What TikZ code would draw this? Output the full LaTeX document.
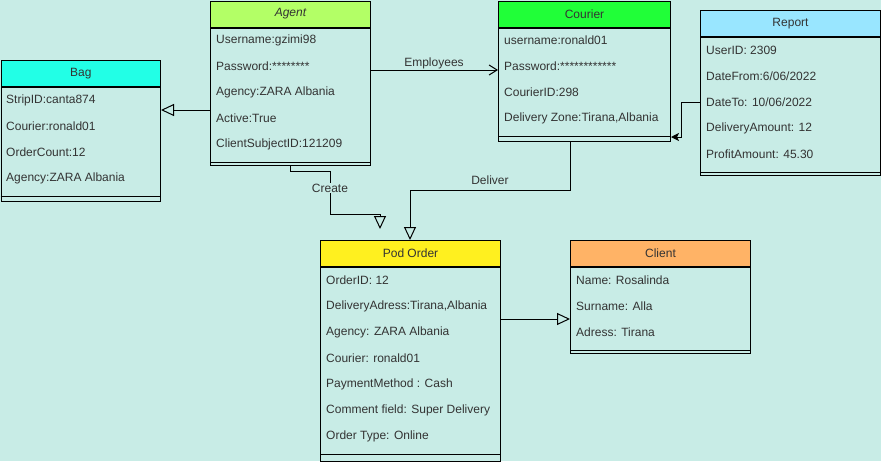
\documentclass[tikz,border=0pt]{standalone}
\usepackage{fontspec}
\setmainfont{Liberation Sans}
\usetikzlibrary{arrows.meta, positioning, calc}
\usepackage{xcolor}

\definecolor{bgmint}{HTML}{C8ECE6}
\definecolor{txtgrey}{HTML}{333333}
\definecolor{agentgreen}{HTML}{B3FF66}
\definecolor{bagcyan}{HTML}{22FFE6}
\definecolor{couriergreen}{HTML}{20FF38}
\definecolor{reportblue}{HTML}{99E6FF}
\definecolor{podyellow}{HTML}{FFF01F}
\definecolor{clientorange}{HTML}{FFB366}

\tikzset{
	head/.style={draw, line width=1pt, anchor=north west, minimum height=26pt, inner sep=0pt, text=txtgrey, font=\fontsize{12}{14}\selectfont},
	body/.style={draw, line width=1pt, anchor=north west, inner sep=0pt},
	row/.style={anchor=west, inner sep=0pt, text=txtgrey, font=\fontsize{12}{14}\selectfont},
	lbl/.style={inner sep=1pt, text=txtgrey, font=\fontsize{12}{14}\selectfont},
	sepline/.style={line width=1pt},
	link/.style={line width=1pt},
	tri/.style={link, -{Triangle[open, length=13pt, width=12pt]}},
	barb/.style={link, -{Straight Barb[length=8pt, width=10pt]}},
	blockhead/.style={link, -{Stealth[length=8pt, width=8pt, inset=2pt]}}
}

\begin{document}
\begin{tikzpicture}[x=1pt,y=-1pt]

	\fill[bgmint] (0,0) rectangle (881,461);
	\useasboundingbox (0,0) rectangle (881,461);

	% Agent
	\node[head, fill=agentgreen, minimum width=160pt] (agent) at (210,0.5) {\itshape Agent};
	\node[body, minimum width=160pt, minimum height=137.5pt] (agentbox) at (agent.south west) {};
	\draw[sepline] ([yshift=4pt]agentbox.south west) -- ([yshift=4pt]agentbox.south east);
	\path (216,40) node[row] (agent1) {Username:gzimi98};
	\path (216,66) node[row] (agent2) {Password:********};
	\path (216,92) node[row] (agent3) {Agency:ZARA Albania};
	\path (216,118) node[row] (agent4) {Active:True};
	\path (216,144) node[row] (agent5) {ClientSubjectID:121209};

	% Bag
	\node[head, fill=bagcyan, minimum width=159.5pt] (bag) at (0.5,60) {Bag};
	\node[body, minimum width=159.5pt, minimum height=114pt] (bagbox) at (bag.south west) {};
	\draw[sepline] ([yshift=6pt]bagbox.south west) -- ([yshift=6pt]bagbox.south east);
	\path (6,100) node[row] (bag1) {StripID:canta874};
	\path (6,126) node[row] (bag2) {Courier:ronald01};
	\path (6,152) node[row] (bag3) {OrderCount:12};
	\path (6,178) node[row] (bag4) {Agency:ZARA Albania};

	% Courier
	\node[head, fill=couriergreen, minimum width=172pt] (courier) at (498,0.5) {Courier};
	\node[body, minimum width=172pt, minimum height=113.5pt] (courierbox) at (courier.south west) {};
	\draw[sepline] ([yshift=6pt]courierbox.south west) -- ([yshift=6pt]courierbox.south east);
	\path (504,40) node[row] (courier1) {username:ronald01};
	\path (504,66) node[row] (courier2) {Password:************};
	\path (504,92) node[row] (courier3) {CourierID:298};
	\path (504,118) node[row] (courier4) {Delivery Zone:Tirana,Albania};

	% Report
	\node[head, fill=reportblue, minimum width=180pt] (report) at (700,10) {Report};
	\node[body, minimum width=180pt, minimum height=138pt] (reportbox) at (report.south west) {};
	\draw[sepline] ([yshift=4pt]reportbox.south west) -- ([yshift=4pt]reportbox.south east);
	\path (706,50) node[row] (report1) {UserID: 2309};
	\path (706,76) node[row] (report2) {DateFrom:6/06/2022};
	\path (706,102) node[row] (report3) {DateTo: 10/06/2022};
	\path (706,128) node[row] (report4) {DeliveryAmount: 12};
	\path (706,154) node[row] (report5) {ProfitAmount: 45.30};

	% Pod Order
	\node[head, fill=podyellow, minimum width=180pt] (pod) at (320,240) {Pod Order};
	\node[body, minimum width=180pt, minimum height=193.5pt] (podbox) at (pod.south west) {};
	\draw[sepline] ([yshift=7pt]podbox.south west) -- ([yshift=7pt]podbox.south east);
	\path (326,280) node[row] (pod1) {OrderID: 12};
	\path (326,306) node[row] (pod2) {DeliveryAdress:Tirana,Albania};
	\path (326,332) node[row] (pod3) {Agency: ZARA Albania};
	\path (326,358) node[row] (pod4) {Courier: ronald01};
	\path (326,384) node[row] (pod5) {PaymentMethod : Cash};
	\path (326,410) node[row] (pod6) {Comment field: Super Delivery};
	\path (326,436) node[row] (pod7) {Order Type: Online};

	% Client
	\node[head, fill=clientorange, minimum width=180pt] (client) at (570,240) {Client};
	\node[body, minimum width=180pt, minimum height=86pt] (clientbox) at (client.south west) {};
	\draw[sepline] ([yshift=4pt]clientbox.south west) -- ([yshift=4pt]clientbox.south east);
	\path (576,280) node[row] (client1) {Name: Rosalinda};
	\path (576,306) node[row] (client2) {Surname: Alla};
	\path (576,332) node[row] (client3) {Adress: Tirana};

	% connectors
	\coordinate (ab) at (210,110);
	\coordinate (emp) at (370,70);
	\coordinate (cr1) at (330,171);
	\coordinate (cr2) at (380,214);
	\coordinate (dl0) at (570,0);
	\coordinate (dl) at (410,190);
	\coordinate (pc) at (500,319);

	\draw[tri] (ab) -- (ab -| bagbox.east);
	\draw[barb] (emp) -- (emp -| courierbox.west) node[lbl, midway, above=0pt] {Employees};
	\draw[blockhead] (reportbox.west |- report3) -- ++(-19,0) |- ([yshift=5pt]courierbox.south east);
	\draw[tri] (agentbox.south) |- (cr1) |- (cr2) -- ++(0,15);
	\path (330,188) node[lbl, fill=bgmint] (create) {Create};
	\draw[tri] (dl0 |- courierbox.south) |- (dl) node[lbl, pos=0.75, above=4pt] {Deliver} -- (dl |- pod.north);
	\draw[tri] (pc) -- (pc -| clientbox.west);

\end{tikzpicture}
\end{document}
